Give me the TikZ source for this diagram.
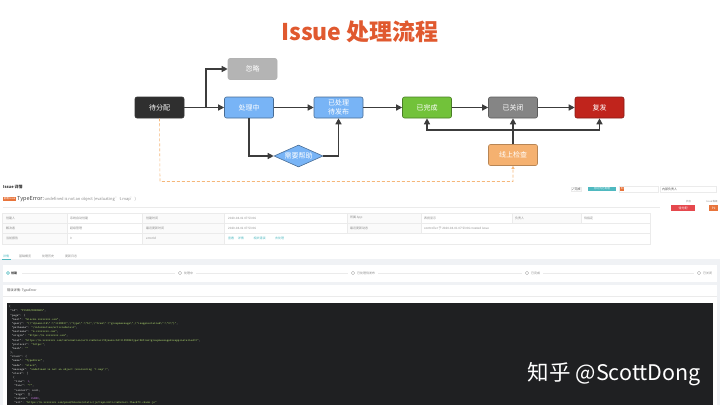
\documentclass[tikz,border=0pt]{standalone}
\usepackage{fontspec}
\setmainfont{Noto Sans CJK SC}
\usetikzlibrary{arrows.meta, shapes.geometric}

\definecolor{titlered}{HTML}{E0592F}
\definecolor{darkfill}{HTML}{2F2F2F}
\definecolor{lightgrey}{HTML}{B4B4B4}
\definecolor{skyblue}{HTML}{78B4F6}
\definecolor{okgreen}{HTML}{72C23A}
\definecolor{midgrey}{HTML}{858585}
\definecolor{alarmred}{HTML}{C0241C}
\definecolor{softorange}{HTML}{F5B170}
\definecolor{arrowgrey}{HTML}{3C3C3C}
\definecolor{dashorange}{HTML}{F5B77A}
\definecolor{pagegrey}{HTML}{F0F2F5}
\definecolor{gridline}{HTML}{EBEBEB}
\definecolor{cellgrey}{HTML}{FAFAFA}
\definecolor{textgrey}{HTML}{8A8A8A}
\definecolor{teal}{HTML}{4FB9C0}
\definecolor{tagorange}{HTML}{E8743B}
\definecolor{btnred}{HTML}{E5484D}
\definecolor{codebg}{HTML}{1F2022}
\definecolor{codekey}{HTML}{D6D6D6}
\definecolor{codeval}{HTML}{A8CF6A}
\definecolor{codenum}{HTML}{C678DD}

\newcommand{\ck}[1]{\textcolor{codekey}{#1}}
\newcommand{\cv}[1]{\textcolor{codeval}{#1}}
\newcommand{\cn}[1]{\textcolor{codenum}{#1}}

\begin{document}
\begin{tikzpicture}[x=1pt, y=-1pt,
    state/.style={draw, rounded corners=2pt, align=center, minimum width=49pt, minimum height=21pt, inner sep=1pt, text=white, font=\fontsize{7}{8.5}\selectfont, line width=0.6pt},
    choice/.style={draw, diamond, aspect=2.3, minimum width=49pt, minimum height=22pt, inner sep=0pt, text=white, font=\fontsize{7}{8.5}\selectfont, line width=0.6pt},
    arr/.style={-{Triangle[length=6pt, width=6pt]}, line width=1.3pt, draw=arrowgrey},
    darr/.style={-{Triangle[length=3pt, width=3pt]}, line width=0.6pt, draw=dashorange, dash pattern=on 3pt off 2pt},
    tiny/.style={font=\fontsize{3}{3.6}\selectfont, text=textgrey, inner sep=0pt, anchor=west},
    code/.style={font=\ttfamily\fontsize{3}{4.17}\selectfont, text=codekey, align=left, inner sep=0pt}
]
\useasboundingbox (0,0) rectangle (720,405);

% flow chart
\node[font=\bfseries\fontsize{23}{26}\selectfont, text=titlered, anchor=base] (title) at (360,40.5) {Issue 处理流程};

\node[state, fill=darkfill, draw=black!80] (pending) at (159.5,107.5) {待分配};
\node[state, fill=lightgrey, draw=black!30] (ignore) at (252.5,69) {忽略};
\node[state, fill=skyblue, draw=skyblue!60!black] (doing) at (249,107.5) {处理中};
\node[state, fill=skyblue, draw=skyblue!60!black] (handled) at (338.5,107.5) {已处理\\待发布};
\node[state, fill=okgreen, draw=okgreen!65!black] (done) at (427,107.5) {已完成};
\node[state, fill=midgrey, draw=midgrey!70!black] (closed) at (513,107.5) {已关闭};
\node[state, fill=alarmred, draw=alarmred!70!black] (reopen) at (599.5,107.5) {复发};
\node[choice, fill=skyblue, draw=skyblue!60!black] (help) at (298.5,156) {需要帮助};
\node[state, fill=softorange, draw=softorange!75!black] (check) at (513,155) {线上检查};

\coordinate (fork) at (206,107.5);
\coordinate (bar) at (513,130);
\coordinate (dash) at (160,181.5);

\draw[arr] (pending) -- (doing);
\draw[arr] (fork) |- (ignore);
\draw[arr] (doing) -- (handled);
\draw[arr] (handled) -- (done);
\draw[arr] (done) -- (closed);
\draw[arr] (closed) -- (reopen);
\draw[arr] (doing.south) |- (help);
\draw[arr] (help) -| (handled.south);
\draw[arr] (check) -- (closed);
\draw[arr] (bar) -| (done.south);
\draw[arr] (bar) -| (reopen.south);
\draw[darr] (pending.south) -- (dash) -| (check.south);

% screenshot of the issue page
\fill[pagegrey] (0,259) rectangle (720,405);
\fill[white] (3,265) rectangle (717,282);
\fill[white] (3,285) rectangle (717,405);
\fill[codebg] (7,303) rectangle (713,405);

\node[tiny, text=black!80, font=\bfseries\fontsize{4}{5}\selectfont] (head) at (3,187) {Issue 详情};
\node[fill=tagorange, text=white, font=\fontsize{2.5}{3}\selectfont, inner sep=0.6pt, minimum width=12pt, anchor=west] (tag) at (3,199) {前端 Issue};
\node[tiny, text=black!75, font=\fontsize{5.5}{6}\selectfont] (err) at (17,199) {TypeError:};
\node[tiny, font=\fontsize{4}{5}\selectfont, anchor=base west] (errmsg) at (err.base east) {undefined is not an object (evaluating 't.map')};
\draw[gridline, line width=0.4pt] (3,207) -- (660,207);

\node[draw=gridline, fill=white, tiny, text=black!70, inner sep=0.8pt, anchor=west] (finish) at (571,189) {✓ 完成};
\node[fill=teal, text=white, font=\fontsize{2.6}{3}\selectfont, inner sep=1pt, minimum width=28pt, anchor=west] (markbtn) at (588,189) {标记为已处理};
\draw[gridline] (619,186) rectangle (658,192);
\node[fill=tagorange, text=white, font=\fontsize{2.5}{3}\selectfont, inner sep=0.6pt, anchor=west] (lvl) at (620,189) {P2};
\draw[gridline] (660,186) rectangle (716,192);
\node[tiny, text=black!70] (owner) at (662,189) {内部负责人};
\node[tiny, font=\fontsize{2.5}{3}\selectfont] (statelab) at (686,202) {状态};
\node[fill=btnred, text=white, font=\fontsize{3}{3.5}\selectfont, minimum width=24pt, minimum height=6pt, inner sep=0pt, anchor=west] (statebtn) at (671,208) {待分配};
\node[tiny, font=\fontsize{2.5}{3}\selectfont] (lvllab) at (706,202) {Issue 等级};
\node[fill=tagorange, text=white, font=\fontsize{3}{3.5}\selectfont, minimum width=9pt, minimum height=6pt, inner sep=0pt, anchor=west] (lvlbtn) at (709,208) {P2};

% table
\fill[cellgrey] (2,213) rectangle (67,244) (142,213) rectangle (224,244) (347,213) rectangle (421,233) (512,213) rectangle (581,223);
\draw[gridline, line width=0.4pt] (2,213) rectangle (650,244) (2,223) -- (650,223) (2,233) -- (650,233);
\foreach \x in {67,142,224} \draw[gridline, line width=0.4pt] (\x,213) -- (\x,244);
\foreach \x in {347,421} \draw[gridline, line width=0.4pt] (\x,213) -- (\x,233);
\foreach \x in {512,581} \draw[gridline, line width=0.4pt] (\x,213) -- (\x,223);
\node[tiny] (c11) at (6,218) {创建人};
\node[tiny] (c12) at (70,218) {系统自动创建};
\node[tiny] (c13) at (146,218) {创建时间};
\node[tiny] (c14) at (228,218) {2020-04-01 07:53:06};
\node[tiny] (c15) at (350,218) {所属 App};
\node[tiny] (c16) at (424,218) {表扬显示};
\node[tiny] (c17) at (515,218) {负责人};
\node[tiny] (c18) at (584,218) {待指定};
\node[tiny] (c21) at (6,228) {解决者};
\node[tiny] (c22) at (70,228) {超级管理};
\node[tiny] (c23) at (146,228) {最近更新时间};
\node[tiny] (c24) at (228,228) {2020-04-01 07:53:06};
\node[tiny] (c25) at (350,228) {最近更新动态};
\node[tiny] (c26) at (424,228) {controller 于 2020-04-01 07:53:06 created issue};
\node[tiny] (c31) at (6,238.5) {当前报告};
\node[tiny] (c32) at (70,238.5) {0};
\node[tiny] (c33) at (146,238.5) {errorId};
\node[tiny, text=teal] (c34) at (228,238.5) {查看 \quad 详情 \qquad\quad 相关错误 \qquad\quad 去处理};

% tabs
\node[tiny, text=teal] (tab1) at (3,256) {详情};
\node[tiny] (tab2) at (19,256) {基础概览};
\node[tiny] (tab3) at (42,256) {处理历史};
\node[tiny] (tab4) at (65,256) {更新日志};
\draw[teal, line width=0.6pt] (2,258.8) -- (11,258.8);

% progress
\node[draw=teal, circle, inner sep=0pt, minimum size=3pt, line width=0.4pt] (s1) at (8,273) {};
\node[tiny, text=black!75, font=\bfseries\fontsize{3}{3.6}\selectfont] (l1) at (11,273) {创建};
\node[draw=textgrey, circle, inner sep=0pt, minimum size=3.5pt, line width=0.3pt] (s2) at (180,273) {};
\node[tiny] (l2) at (184,273) {处理中};
\node[draw=textgrey, circle, inner sep=0pt, minimum size=3.5pt, line width=0.3pt] (s3) at (353,273) {};
\node[tiny] (l3) at (357,273) {已处理待发布};
\node[draw=textgrey, circle, inner sep=0pt, minimum size=3.5pt, line width=0.3pt] (s4) at (527,273) {};
\node[tiny] (l4) at (531,273) {已完成};
\node[draw=textgrey, circle, inner sep=0pt, minimum size=3.5pt, line width=0.3pt] (s5) at (699,273) {};
\node[tiny] (l5) at (703,273) {已关闭};
\draw[gridline, line width=0.4pt] ([xshift=5pt]l1.east) -- ([xshift=-3pt]s2.west);
\draw[gridline, line width=0.4pt] ([xshift=3pt]l2.east) -- ([xshift=-3pt]s3.west);
\draw[gridline, line width=0.4pt] ([xshift=3pt]l3.east) -- ([xshift=-3pt]s4.west);
\draw[gridline, line width=0.4pt] ([xshift=3pt]l4.east) -- ([xshift=-3pt]s5.west);

% error detail
\node[tiny, text=black!70, font=\fontsize{3.2}{4}\selectfont] (detail) at (7,291) {错误详情: TypeError};
\draw[gridline, line width=0.4pt] (3,296.5) -- (717,296.5);

\node[code, anchor=north west] (json) at (9,305.4) {%
\{\\
\hspace*{1ex}\ck{"id"}: \cv{"P15ZR/N8GN6E5"},\\
\hspace*{1ex}\ck{"page"}: \{\\
\hspace*{2ex}\ck{"host"}: \cv{"blocks.xxxxxxxx.com"},\\
\hspace*{2ex}\ck{"query"}: \cv{"\{\textbackslash"dynamicId\textbackslash":\textbackslash"113983\textbackslash",\textbackslash"type\textbackslash":\textbackslash"5\textbackslash",\textbackslash"from\textbackslash":\textbackslash"groupmessage\textbackslash",\textbackslash"isappinstalled\textbackslash":\textbackslash"0\textbackslash"\}"},\\
\hspace*{2ex}\ck{"pathname"}: \cv{"/information/articleDetail"},\\
\hspace*{2ex}\ck{"hostname"}: \cv{"m.xxxxxxxx.com"},\\
\hspace*{2ex}\ck{"origin"}: \cv{"https://m.xxxxxxxx.com"},\\
\hspace*{2ex}\ck{"href"}: \cv{"https://m.xxxxxxxx.com/information/articleDetail?dynamicId=113983\&type=5\&from=groupmessage\&isappinstalled=0"},\\
\hspace*{2ex}\ck{"protocol"}: \cv{"https:"},\\
\hspace*{2ex}\ck{"hash"}: \cv{""}\\
\hspace*{1ex}\},\\
\hspace*{1ex}\ck{"stack"}: \{\\
\hspace*{2ex}\ck{"name"}: \cv{"TypeError"},\\
\hspace*{2ex}\ck{"mode"}: \cv{"stack"},\\
\hspace*{2ex}\ck{"message"}: \cv{"undefined is not an object (evaluating 't.map')"},\\
\hspace*{2ex}\ck{"stack"}: [\\
\hspace*{3ex}\{\\
\hspace*{4ex}\ck{"line"}: \cn{1},\\
\hspace*{4ex}\ck{"func"}: \cv{"?"},\\
\hspace*{4ex}\ck{"context"}: null,\\
\hspace*{4ex}\ck{"args"}: [],\\
\hspace*{4ex}\ck{"column"}: \cn{15880},\\
\hspace*{4ex}\ck{"url"}: \cv{"https://m.xxxxxxxx.com/prod/blocks/static/js/topicArticleDetail.f5ecd70.chunk.js"}
};

\node[font=\fontsize{21.5}{24}\selectfont, text=white, anchor=base east, inner sep=0pt] (zhihu) at (701,380) {知乎 @ScottDong};
\end{tikzpicture}
\end{document}
